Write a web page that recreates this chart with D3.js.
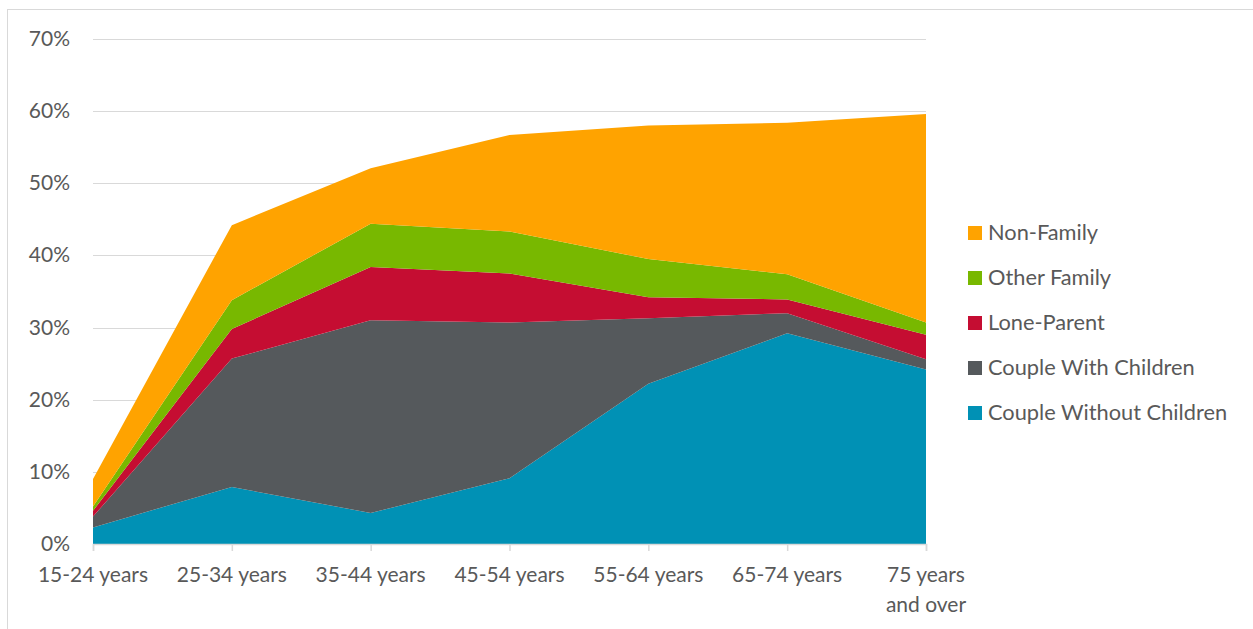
<!DOCTYPE html>
<html>
<head>
<meta charset="utf-8">
<script src="https://cdn.jsdelivr.net/npm/d3@7"></script>
<style>
body { margin: 0; background: #fff; }
text { font-family: Lato, "Open Sans", sans-serif; fill: #595959; }
</style>
</head>
<body>
<script>
var ages = ["15-24 years", "25-34 years", "35-44 years", "45-54 years", "55-64 years", "65-74 years", "75 years and over"];
var seriesNames = ["Couple Without Children", "Couple With Children", "Lone-Parent", "Other Family", "Non-Family"];
var coupleNoKids = [2.3, 7.9, 4.3, 9.1, 22.2, 29.2, 24.2];
var coupleKids = [1.5, 17.8, 26.7, 21.6, 9.1, 2.8, 1.4];
var loneParent = [0.8, 4.1, 7.4, 6.8, 2.9, 1.9, 3.4];
var otherFamily = [0.6, 4.0, 6.0, 5.8, 5.3, 3.5, 1.7];
var nonFamily = [3.8, 10.4, 7.7, 13.4, 18.5, 21.0, 28.9];
var yTicks = [0, 10, 20, 30, 40, 50, 60, 70];
var colors = ["#0091b5", "#55595c", "#c50d32", "#78b800", "#ffa300"];

var W = 1253, H = 629;
var svg = d3.select("body").append("svg")
	.attr("width", W)
	.attr("height", H);

// chart frame
svg.append("rect")
	.attr("x", 7.5).attr("y", 9.5)
	.attr("width", W + 10).attr("height", H + 10)
	.attr("fill", "none").attr("stroke", "#d9d9d9");

var x = d3.scalePoint().domain(ages).range([93, 926]);
var y = d3.scaleLinear().domain([0, 70]).range([544, 39]);

var table = ages.map(function (a, i) {
	return {
		age: a,
		"Couple Without Children": coupleNoKids[i],
		"Couple With Children": coupleKids[i],
		"Lone-Parent": loneParent[i],
		"Other Family": otherFamily[i],
		"Non-Family": nonFamily[i]
	};
});
var stacked = d3.stack().keys(seriesNames)(table);

// gridlines
svg.append("g").selectAll("line")
	.data(yTicks.slice(1))
	.join("line")
	.attr("x1", 93).attr("x2", 926)
	.attr("y1", function (d) { return Math.round(y(d)) + 0.5; })
	.attr("y2", function (d) { return Math.round(y(d)) + 0.5; })
	.attr("stroke", "#d9d9d9").attr("stroke-width", 1);

var area = d3.area()
	.x(function (d) { return x(d.data.age); })
	.y0(function (d) { return y(d[0]); })
	.y1(function (d) { return y(d[1]); });

svg.append("g").selectAll("path")
	.data(stacked)
	.join("path")
	.attr("d", area)
	.attr("fill", function (d, i) { return colors[i]; });

// x axis
var xAxis = svg.append("g")
	.attr("transform", "translate(0," + 544 + ")")
	.call(d3.axisBottom(x).tickSize(7).tickFormat(""));
xAxis.select(".domain").attr("stroke", "#d9d9d9").attr("stroke-width", 1.5);
xAxis.selectAll(".tick line").attr("stroke", "#d9d9d9").attr("stroke-width", 1.5);

svg.append("g").selectAll("text")
	.data(ages)
	.join("text")
	.attr("text-anchor", "middle")
	.attr("font-size", 21)
	.attr("x", function (d) { return x(d); })
	.attr("y", 582)
	.each(function (d) {
		var t = d3.select(this);
		var lines = d === "75 years and over" ? ["75 years", "and over"] : [d];
		lines.forEach(function (l, k) {
			t.append("tspan").attr("x", x(d)).attr("dy", k === 0 ? 0 : 30).text(l);
		});
	});

// y labels
svg.append("g").selectAll("text")
	.data(yTicks)
	.join("text")
	.attr("text-anchor", "end")
	.attr("font-size", 21)
	.attr("x", 70)
	.attr("y", function (d) { return y(d) + 7; })
	.text(function (d) { return d + "%"; });

// legend
var legendOrder = seriesNames.slice().reverse();
var lg = svg.append("g").selectAll("g")
	.data(legendOrder)
	.join("g")
	.attr("transform", function (d, i) { return "translate(968," + (226 + i * 45) + ")"; });
lg.append("rect")
	.attr("width", 14).attr("height", 14)
	.attr("fill", function (d) { return colors[seriesNames.indexOf(d)]; });
lg.append("text")
	.attr("x", 20).attr("y", 14)
	.attr("font-size", 21.8)
	.text(function (d) { return d; });
</script>
</body>
</html>
